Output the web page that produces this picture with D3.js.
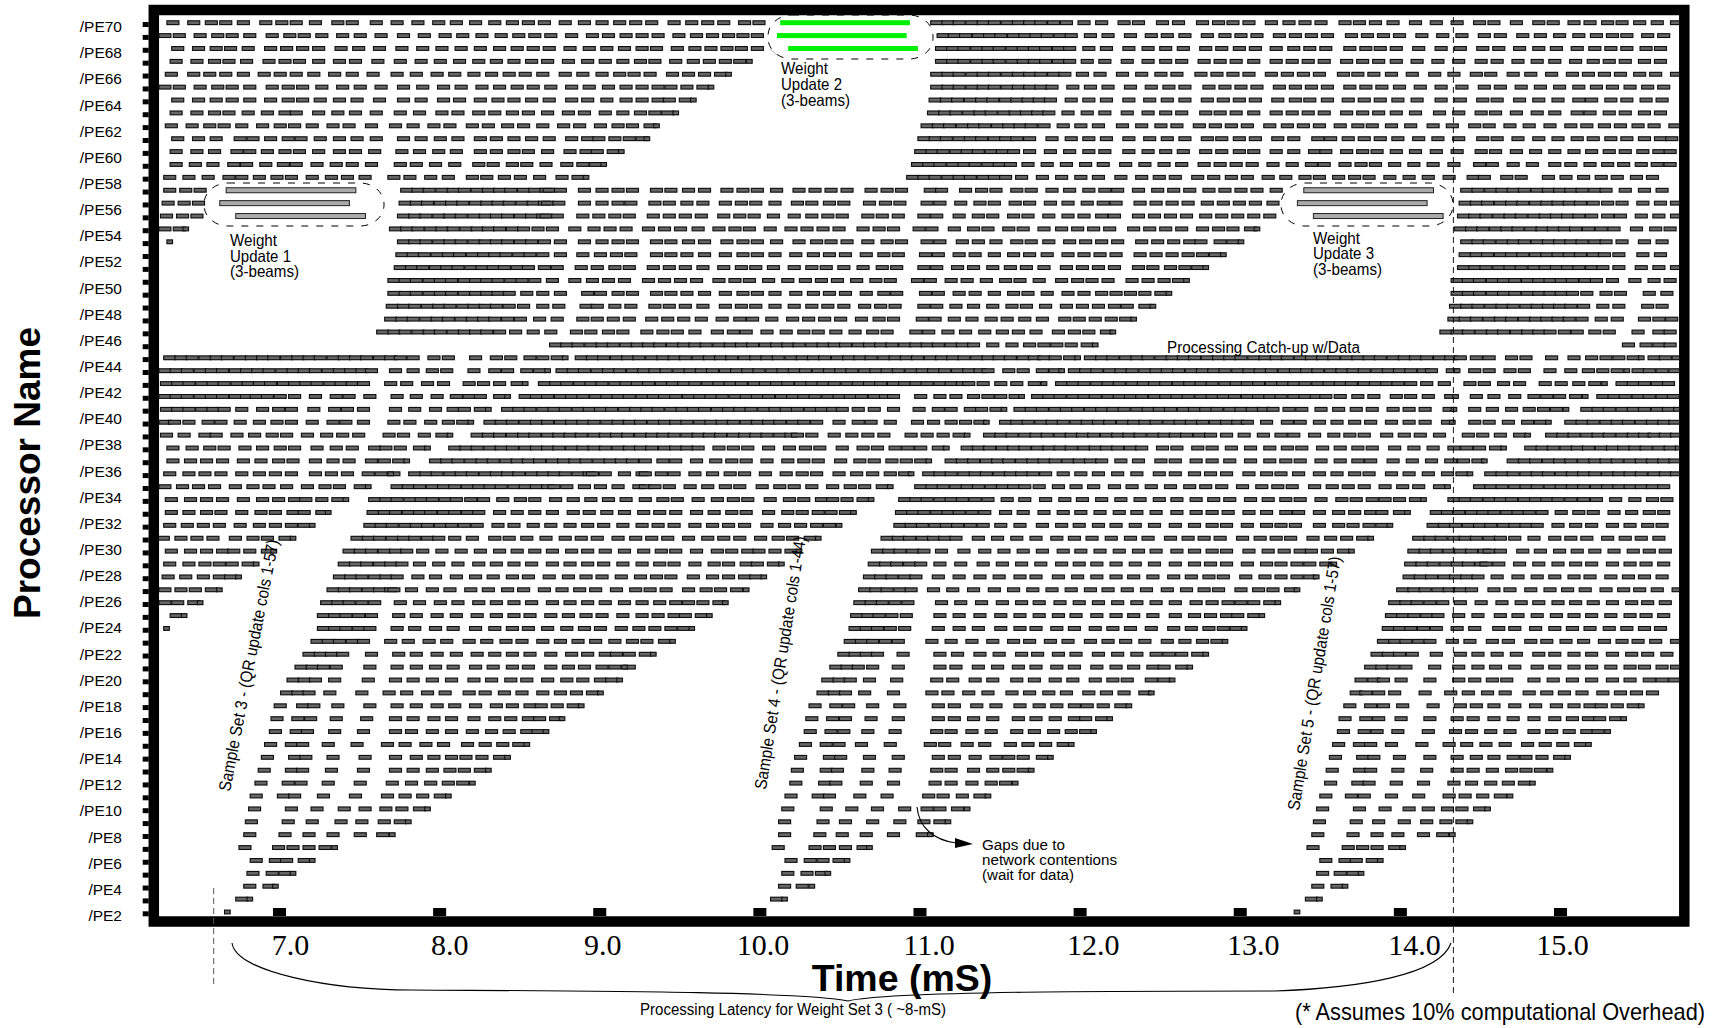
<!DOCTYPE html>
<html>
<head>
<meta charset="utf-8">
<script src="https://cdn.jsdelivr.net/npm/d3@7"></script>
<style>
body { margin: 0; background: #fff; }
text { font-family: "Liberation Sans", Arial, sans-serif; fill: #000; }
</style>
</head>
<body>
<div id="chart"></div>
<script>
// tick labels
var peLabels = ["/PE70","/PE68","/PE66","/PE64","/PE62","/PE60","/PE58","/PE56","/PE54","/PE52","/PE50","/PE48","/PE46","/PE44","/PE42","/PE40","/PE38","/PE36","/PE34","/PE32","/PE30","/PE28","/PE26","/PE24","/PE22","/PE20","/PE18","/PE16","/PE14","/PE12","/PE10","/PE8","/PE6","/PE4","/PE2"];
var timeTicks = [7, 8, 9, 10, 11, 12, 13, 14, 15];

// start of each compute burst, one list per processor row (top row first),
// hundredths of a mS
var rowStarts = [
[630,643,654,663,674,688,698,707,719,733,742,757,770,783,796,807,819,831,842,852,862,875,887,898,909,919,929,943,954,964,974,987,996,1107,1114,1121,1129,1136,1143,1151,1158,1165,1172,1180,1188,1199,1210,1224,1233,1248,1258,1273,1283,1292,1302,1316,1327,1337,1347,1362,1371,1381,1392,1406,1419,1432,1446,1455,1469,1483,1492,1505,1515,1526,1535,1546,1557,1569],
[625,634,647,658,667,678,692,703,712,723,736,747,760,774,787,800,811,823,835,846,856,866,879,892,902,913,923,933,946,957,967,977,986,995,1111,1118,1125,1133,1140,1147,1155,1162,1169,1176,1184,1191,1203,1214,1228,1241,1251,1262,1276,1287,1297,1307,1321,1331,1341,1351,1366,1376,1386,1396,1410,1423,1435,1449,1459,1473,1484,1496,1508,1519,1529,1538,1551,1561],
[633,646,657,666,677,691,701,711,721,735,746,759,773,786,798,810,822,834,845,855,865,878,890,901,912,923,932,945,956,966,976,985,995,1110,1117,1124,1132,1139,1146,1154,1161,1168,1175,1183,1190,1202,1213,1227,1239,1250,1261,1275,1285,1296,1306,1319,1330,1340,1350,1365,1375,1384,1394,1408,1422,1434,1448,1458,1471,1483,1494,1507,1518,1528,1538,1550,1559],
[632,645,656,665,676,690,700,709,721,734,744,758,772,785,797,809,821,832,843,854,864,877,889,900,911,922,931,944,955,965,975,984,1110,1117,1124,1132,1139,1146,1154,1161,1168,1175,1183,1190,1201,1212,1226,1239,1250,1260,1274,1284,1294,1305,1319,1329,1339,1349,1363,1373,1383,1394,1407,1420,1433,1447,1457,1470,1482,1493,1506,1517,1527,1537,1549,1559],
[629,643,653,663,674,687,697,707,718,731,742,755,770,782,795,806,818,829,840,850,861,875,886,898,909,918,928,942,952,962,972,1107,1114,1121,1129,1136,1143,1151,1158,1165,1172,1180,1187,1198,1209,1223,1235,1247,1257,1272,1282,1292,1302,1316,1326,1336,1346,1361,1370,1380,1391,1404,1418,1430,1444,1453,1467,1478,1491,1504,1514,1524,1534,1546,1556,1569],
[625,634,647,658,667,678,692,702,711,723,736,747,760,774,786,799,810,823,834,845,855,866,879,890,902,913,923,933,941,951,961,1107,1114,1121,1129,1136,1143,1151,1158,1165,1172,1179,1192,1203,1214,1228,1241,1252,1262,1277,1287,1297,1307,1321,1331,1341,1351,1365,1375,1385,1396,1409,1422,1435,1449,1459,1472,1484,1496,1508,1519,1529,1540,1551,1561],
[633,646,657,667,678,691,702,711,722,734,745,759,774,785,799,809,822,833,843,854,865,879,889,901,913,923,933,940,950,1106,1113,1120,1128,1135,1142,1150,1157,1164,1171,1178,1191,1202,1213,1227,1240,1251,1262,1276,1286,1296,1306,1320,1331,1340,1351,1364,1374,1384,1395,1407,1422,1434,1448,1457,1471,1483,1495,1508,1516,1528,1538,1550,1560],
[632,645,656,665,677,689,700,707,721,733,744,757,772,784,798,808,821,831,842,852,864,877,887,900,911,922,931,939,1105,1112,1119,1127,1134,1141,1149,1156,1163,1170,1177,1189,1201,1212,1226,1239,1250,1260,1275,1284,1294,1305,1319,1329,1339,1349,1363,1373,1383,1394,1406,1421,1433,1447,1456,1469,1482,1493,1507,1515,1527,1537,1549,1559],
[629,642,653,662,673,686,697,706,717,730,740,754,769,780,793,803,817,827,839,849,861,874,884,897,908,917,928,1101,1108,1115,1123,1130,1137,1145,1152,1159,1166,1174,1186,1197,1208,1223,1235,1247,1257,1271,1281,1291,1301,1315,1326,1336,1346,1359,1370,1379,1391,1403,1417,1429,1443,1452,1465,1477,1490,1503,1513,1524,1534,1545,1555,1568],
[633,646,657,672,680,691,702,710,722,734,745,757,774,785,797,808,822,832,843,854,865,879,889,896,906,915,923,1099,1106,1113,1121,1128,1135,1143,1150,1157,1165,1179,1191,1202,1213,1227,1240,1251,1262,1276,1285,1296,1306,1320,1330,1345,1353,1364,1374,1384,1395,1408,1420,1433,1448,1457,1470,1483,1495,1507,1517,1528,1538,1549,1559,1566],
[632,645,656,670,678,689,700,709,721,734,744,756,773,784,796,807,822,832,843,852,864,878,888,895,905,1097,1104,1111,1119,1126,1133,1141,1148,1155,1165,1178,1190,1202,1212,1227,1239,1250,1261,1275,1285,1296,1305,1319,1330,1343,1350,1363,1373,1382,1394,1406,1419,1432,1447,1456,1469,1481,1493,1505,1516,1527,1537,1548,1558,1565],
[632,644,655,668,676,688,699,707,720,732,742,754,772,782,794,806,821,830,842,851,863,876,886,894,1095,1102,1109,1117,1124,1131,1139,1146,1153,1164,1176,1188,1200,1211,1225,1237,1249,1260,1274,1284,1294,1304,1317,1329,1341,1349,1362,1372,1381,1393,1405,1417,1430,1446,1454,1467,1479,1493,1503,1515,1526,1536,1547,1557,1565],
[628,640,652,665,673,684,695,704,717,729,739,750,768,778,791,802,817,826,837,847,859,873,883,1092,1099,1106,1114,1121,1128,1136,1143,1150,1160,1173,1185,1197,1208,1222,1235,1246,1256,1270,1280,1291,1301,1314,1325,1337,1346,1358,1368,1377,1390,1402,1414,1427,1442,1449,1463,1472,1489,1500,1511,1522,1532,1544,1554],
[628,638,647,776,783,790,798,805,812,820,827,834,841,849,856,863,865,872,887,898,908,917,932,941,952,962,976,986,995,1007,1021,1031,1041,1051,1066,1076,1085,1103,1110,1125,1135,1144,1157,1166,1179,1190,1202,1212,1220,1233,1245,1255,1265,1277,1287,1297,1307,1319,1438,1445,1453,1460,1467,1474,1482,1489,1496,1503,1510,1518,1525,1537,1549,1560],
[627,637,646,775,782,789,797,804,811,819,826,833,840,848,855,862,864,871,887,898,908,916,931,940,951,961,975,985,994,1006,1020,1029,1040,1049,1065,1075,1084,1101,1109,1122,1134,1143,1156,1165,1178,1189,1201,1211,1219,1234,1244,1254,1264,1276,1286,1296,1306,1317,1437,1444,1451,1459,1466,1473,1481,1488,1495,1502,1509,1517,1526,1535,1548,1559,1569],
[626,636,645,774,781,788,796,803,810,818,825,832,839,847,854,861,863,870,886,896,906,915,930,940,950,960,974,984,993,1005,1018,1029,1039,1048,1064,1073,1083,1099,1107,1121,1133,1142,1155,1164,1177,1189,1199,1210,1218,1233,1243,1253,1263,1275,1285,1295,1305,1315,1436,1443,1450,1458,1465,1472,1480,1487,1494,1501,1508,1516,1526,1534,1547,1558,1569],
[625,634,769,776,783,791,798,805,813,820,827,834,842,849,858,867,881,893,903,913,927,937,947,958,971,981,990,1003,1016,1026,1036,1046,1061,1071,1080,1096,1104,1118,1130,1139,1152,1161,1174,1185,1195,1205,1215,1230,1240,1250,1260,1273,1283,1292,1303,1434,1441,1448,1456,1463,1470,1478,1485,1492,1499,1506,1514,1522,1530,1544,1556,1565],
[774,781,788,796,803,810,818,825,832,839,847,854,862,872,887,898,908,917,932,941,952,962,976,986,995,1007,1021,1032,1041,1051,1064,1076,1085,1101,1109,1123,1133,1144,1157,1166,1177,1190,1200,1210,1220,1235,1245,1255,1265,1272,1284,1292,1438,1445,1452,1460,1467,1474,1482,1489,1496,1503,1510,1518,1525,1535,1549,1560],
[773,780,787,795,802,809,817,824,831,838,846,853,861,872,886,897,907,916,932,941,951,962,975,986,995,1006,1019,1030,1040,1050,1063,1074,1083,1100,1108,1121,1131,1143,1155,1165,1176,1189,1199,1209,1219,1234,1244,1254,1264,1273,1281,1437,1444,1451,1459,1466,1473,1481,1488,1495,1502,1509,1517,1524,1533,1548,1559],
[772,779,786,794,801,808,816,823,830,837,845,852,862,870,885,895,906,915,930,940,950,961,974,985,994,1005,1018,1029,1038,1049,1061,1073,1082,1099,1107,1120,1130,1142,1153,1163,1174,1188,1198,1208,1218,1233,1242,1253,1262,1270,1436,1443,1450,1458,1465,1472,1480,1487,1494,1501,1508,1516,1523,1533,1547,1558,1569],
[768,775,782,790,797,804,812,819,826,833,841,848,856,867,881,892,902,912,927,937,947,957,971,981,990,1002,1014,1025,1035,1045,1057,1069,1078,1095,1103,1116,1126,1138,1150,1159,1171,1185,1195,1204,1214,1229,1239,1249,1258,1432,1439,1446,1454,1461,1468,1476,1483,1490,1497,1504,1512,1519,1529,1543,1555,1565],
[768,775,782,790,797,804,812,819,826,833,840,851,861,872,889,897,908,917,932,941,951,962,975,986,995,1006,1019,1030,1040,1050,1063,1074,1082,1100,1108,1121,1131,1143,1155,1164,1176,1189,1199,1210,1219,1228,1237,1247,1432,1439,1446,1454,1461,1468,1476,1483,1490,1497,1504,1513,1525,1534,1552,1563],
[767,774,781,789,796,803,811,818,825,832,840,849,861,871,888,895,906,916,931,940,950,961,975,985,994,1006,1018,1029,1039,1049,1062,1072,1081,1099,1107,1119,1130,1142,1154,1163,1175,1188,1198,1208,1218,1226,1237,1431,1438,1445,1453,1460,1467,1475,1482,1489,1496,1503,1511,1523,1533,1551,1560],
[766,773,780,788,795,802,810,817,824,831,839,847,859,870,886,895,905,915,929,939,949,960,973,984,992,1004,1017,1027,1037,1047,1060,1071,1080,1098,1106,1118,1129,1141,1151,1162,1173,1187,1196,1206,1216,1225,1430,1437,1444,1452,1459,1466,1474,1481,1488,1495,1502,1510,1522,1532,1549,1558,1566],
[761,768,775,783,790,797,805,812,819,826,834,844,855,866,882,891,902,911,926,936,945,956,970,980,988,1001,1013,1024,1033,1044,1056,1067,1076,1094,1102,1114,1125,1137,1148,1158,1169,1183,1193,1202,1213,1425,1432,1439,1447,1454,1461,1469,1476,1483,1490,1499,1507,1518,1527,1545,1558,1565],
[869,876,883,891,898,905,913,920,927,934,942,949,956,963,971,978,985,992,1000,1007,1014,1021,1029,1036,1043,1050,1058,1065,1072,1079,1087,1094,1101,1108,1116,1123,1130,1142,1154,1165,1174,1182,1191,1201,1539,1550,1558,1565],
[628,635,642,650,657,664,672,679,686,693,701,708,715,722,730,737,744,751,759,766,772,780,793,802,819,832,841,853,861,870,885,892,899,907,914,921,929,936,943,950,958,965,972,979,987,994,1001,1008,1016,1023,1030,1037,1045,1052,1059,1066,1074,1081,1088,1095,1103,1110,1117,1124,1132,1139,1146,1153,1161,1168,1174,1181,1190,1203,1210,1217,1225,1232,1239,1247,1254,1261,1268,1276,1283,1290,1297,1305,1312,1319,1326,1334,1341,1348,1355,1363,1370,1377,1384,1392,1399,1406,1413,1421,1428,1434,1444,1452,1466,1475,1491,1505,1516,1525,1533,1542,1555,1562,1570],
[625,632,639,647,654,661,669,676,683,690,698,705,712,719,727,734,741,748,754,769,780,792,801,818,831,839,851,859,873,880,887,895,902,909,917,924,931,938,946,953,960,967,975,982,989,996,1004,1011,1018,1025,1033,1040,1047,1054,1062,1069,1076,1083,1091,1098,1105,1112,1120,1127,1134,1139,1152,1161,1173,1181,1193,1200,1207,1215,1222,1229,1237,1244,1251,1258,1266,1273,1280,1287,1295,1302,1309,1316,1324,1331,1338,1345,1353,1360,1367,1374,1382,1389,1396,1403,1411,1416,1429,1443,1452,1465,1474,1490,1503,1514,1523,1532,1545,1552,1560,1568],
[626,633,640,648,655,662,670,677,684,691,699,706,713,720,728,735,742,749,766,776,789,799,815,824,834,845,862,869,876,884,891,898,906,913,920,927,935,942,949,956,964,971,978,985,993,1000,1007,1014,1022,1029,1036,1043,1051,1058,1065,1072,1080,1087,1094,1101,1109,1116,1123,1127,1136,1147,1157,1168,1185,1192,1199,1207,1214,1221,1229,1236,1243,1250,1258,1265,1272,1279,1287,1294,1301,1308,1316,1323,1330,1337,1345,1352,1359,1366,1374,1381,1388,1395,1403,1413,1424,1440,1449,1461,1471,1487,1497,1508,1518,1535,1542,1549,1557,1564],
[625,632,639,647,654,661,669,676,682,689,697,706,719,732,740,753,770,782,795,807,815,822,834,850,857,864,872,879,886,894,901,908,915,923,930,937,944,952,959,966,973,981,988,995,1002,1010,1017,1024,1031,1039,1046,1053,1060,1068,1075,1080,1097,1109,1119,1130,1139,1147,1156,1170,1177,1184,1192,1199,1206,1214,1221,1228,1235,1243,1250,1257,1264,1272,1279,1286,1293,1301,1308,1315,1322,1330,1337,1344,1350,1359,1370,1380,1394,1403,1414,1428,1444,1455,1468,1480,1488,1496,1506,1523,1530,1537,1545,1552,1560,1567],
[626,633,640,648,655,662,673,686,696,704,718,731,739,749,769,781,794,805,812,822,839,846,853,861,868,875,883,890,897,904,912,919,926,933,941,948,955,962,970,977,984,991,999,1006,1013,1020,1028,1035,1042,1048,1058,1068,1080,1096,1108,1116,1128,1135,1144,1159,1166,1173,1181,1188,1195,1203,1210,1217,1224,1232,1239,1246,1253,1261,1268,1275,1282,1290,1297,1304,1311,1317,1327,1335,1347,1358,1369,1379,1392,1402,1412,1427,1443,1454,1466,1477,1486,1494,1513,1520,1527,1535,1542,1549,1557,1564,1571],
[625,631,640,652,660,672,684,695,704,717,730,738,749,768,778,791,802,811,828,835,842,850,857,864,872,879,886,893,901,908,915,922,930,937,944,951,959,966,973,980,988,995,1002,1009,1017,1024,1032,1046,1058,1066,1078,1095,1105,1116,1125,1134,1150,1157,1164,1172,1179,1186,1194,1201,1208,1215,1223,1230,1237,1244,1252,1259,1266,1273,1281,1288,1295,1301,1313,1326,1334,1346,1357,1368,1378,1391,1402,1412,1426,1443,1452,1464,1476,1484,1503,1510,1517,1525,1532,1539,1547,1554,1561,1568],
[626,637,650,657,670,681,692,701,714,726,736,746,765,774,787,798,820,827,834,842,849,856,864,871,878,885,893,900,907,914,922,929,936,943,951,958,965,972,980,987,994,1001,1009,1016,1020,1029,1043,1054,1064,1074,1091,1101,1111,1121,1140,1147,1154,1162,1169,1176,1184,1191,1198,1205,1213,1220,1227,1234,1242,1249,1256,1263,1271,1278,1288,1299,1311,1322,1330,1343,1355,1365,1374,1388,1399,1409,1421,1439,1448,1459,1471,1491,1498,1505,1513,1520,1527,1535,1542,1549,1555,1562,1569],
[630,642,653,662,675,686,697,706,720,732,742,756,763,772,784,806,813,820,828,835,842,850,857,864,871,879,886,893,900,908,915,922,929,937,944,951,958,971,980,989,1002,1015,1025,1034,1048,1061,1070,1081,1089,1097,1108,1126,1133,1140,1148,1155,1162,1170,1177,1184,1191,1199,1206,1213,1220,1228,1235,1248,1257,1270,1279,1291,1303,1315,1326,1335,1348,1359,1370,1379,1393,1405,1417,1430,1438,1446,1456,1478,1485,1492,1500,1507,1514,1522,1529,1536,1543,1550,1558,1565,1572],
[630,641,651,661,674,685,696,705,719,730,740,754,762,771,794,801,808,816,823,830,838,845,852,859,867,874,881,888,896,903,910,917,925,936,944,957,969,979,988,1001,1014,1024,1033,1047,1059,1068,1079,1088,1097,1116,1123,1130,1138,1145,1152,1160,1167,1174,1181,1189,1196,1203,1210,1222,1233,1247,1256,1269,1279,1290,1303,1315,1325,1334,1347,1359,1370,1378,1392,1404,1416,1428,1436,1445,1467,1474,1481,1489,1496,1503,1511,1518,1525,1532,1540,1547,1554,1561,1568],
[628,640,650,660,673,684,694,704,719,729,739,752,760,768,781,788,795,803,810,817,825,832,839,846,854,861,868,875,883,890,892,900,912,923,925,935,943,956,967,978,987,1000,1013,1023,1032,1046,1057,1067,1078,1087,1102,1109,1116,1124,1131,1138,1146,1153,1160,1167,1175,1186,1197,1208,1220,1232,1246,1256,1268,1278,1288,1302,1313,1322,1333,1346,1357,1368,1377,1391,1402,1414,1426,1435,1453,1460,1467,1475,1482,1489,1497,1504,1511,1518,1526,1533,1540,1547,1555,1562,1569],
[625,636,646,656,669,680,690,701,714,725,734,747,770,777,784,792,799,806,814,821,828,835,843,850,857,864,868,876,887,897,908,921,925,931,940,953,964,975,984,998,1009,1018,1029,1042,1053,1062,1073,1097,1104,1111,1119,1126,1133,1141,1148,1155,1162,1171,1183,1194,1205,1218,1229,1241,1253,1265,1275,1285,1298,1310,1320,1329,1343,1354,1364,1374,1387,1398,1408,1421,1446,1453,1460,1468,1475,1482,1490,1497,1504,1511,1519,1526,1533,1540,1547,1554,1561],
[629,641,651,661,674,686,696,706,713,723,733,756,763,770,778,785,792,800,807,816,824,836,847,856,869,880,891,902,913,925,936,945,958,970,980,989,1003,1015,1024,1035,1042,1051,1061,1087,1094,1101,1109,1116,1123,1131,1139,1151,1162,1175,1187,1198,1210,1222,1234,1246,1257,1269,1280,1290,1303,1314,1325,1334,1347,1360,1369,1379,1387,1396,1406,1430,1437,1444,1452,1459,1466,1474,1481,1488,1495,1503,1511,1519,1531,1543,1554,1563],
[629,640,651,660,673,685,694,705,712,723,755,762,769,777,784,791,799,806,814,821,834,845,856,867,880,890,901,912,924,934,944,957,968,979,988,1002,1014,1023,1033,1041,1050,1085,1092,1099,1107,1114,1121,1129,1137,1150,1161,1174,1186,1197,1209,1221,1232,1244,1257,1269,1279,1289,1302,1313,1325,1333,1346,1358,1368,1378,1385,1396,1419,1426,1433,1441,1448,1455,1463,1470,1477,1485,1497,1508,1517,1530,1541,1552,1561],
[628,639,649,659,672,684,694,704,712,753,760,767,775,782,789,797,804,812,820,833,843,855,866,878,889,899,911,923,933,943,956,967,977,987,1001,1012,1022,1032,1040,1084,1091,1098,1106,1113,1120,1128,1136,1147,1159,1173,1185,1196,1208,1219,1231,1243,1256,1268,1279,1288,1301,1313,1322,1331,1346,1358,1367,1377,1385,1417,1424,1431,1439,1446,1453,1461,1468,1475,1482,1495,1506,1516,1529,1540,1551,1560],
[624,635,645,655,669,680,689,700,745,752,759,767,774,781,789,796,806,817,831,840,851,863,875,885,895,908,919,929,939,952,964,974,984,997,1008,1017,1028,1076,1083,1090,1098,1105,1112,1119,1133,1145,1157,1169,1182,1193,1204,1216,1228,1239,1253,1264,1274,1284,1298,1309,1319,1328,1342,1353,1363,1373,1408,1415,1422,1430,1437,1444,1452,1459,1468,1480,1493,1503,1513,1526,1537,1547,1558],
[629,641,651,661,668,678,689,740,747,754,762,769,776,786,798,810,822,834,845,856,867,879,889,900,912,924,935,944,957,970,979,989,996,1006,1016,1070,1077,1084,1092,1099,1110,1124,1137,1149,1161,1173,1186,1197,1209,1221,1233,1244,1257,1268,1279,1288,1302,1314,1324,1334,1341,1351,1361,1405,1412,1419,1427,1434,1441,1449,1452,1459,1473,1484,1496,1507,1518,1530,1542,1552,1562],
[628,640,650,659,667,677,737,744,751,759,766,773,784,796,808,821,832,843,854,867,878,889,899,911,923,934,943,956,968,977,988,995,1005,1068,1075,1082,1090,1097,1109,1122,1136,1148,1160,1172,1185,1196,1207,1219,1231,1243,1256,1268,1278,1288,1301,1313,1322,1332,1340,1350,1403,1410,1417,1425,1432,1439,1447,1450,1458,1471,1483,1495,1506,1516,1529,1540,1550,1561],
[627,638,649,659,666,734,741,748,756,763,770,783,794,807,819,830,842,852,865,877,888,898,910,922,932,941,955,967,977,987,994,1065,1072,1079,1087,1094,1108,1121,1134,1146,1159,1169,1183,1195,1207,1219,1230,1242,1255,1266,1277,1286,1300,1312,1322,1332,1340,1402,1409,1416,1424,1431,1438,1445,1457,1470,1482,1493,1505,1515,1528,1539,1549,1560],
[625,635,644,654,730,737,744,752,759,766,768,779,792,803,816,827,839,849,862,873,884,894,907,919,928,938,952,963,972,982,1062,1069,1076,1084,1091,1105,1117,1130,1143,1155,1167,1179,1191,1203,1214,1226,1238,1251,1263,1274,1283,1297,1308,1317,1328,1398,1405,1412,1420,1427,1434,1441,1455,1465,1478,1490,1501,1512,1525,1536,1546,1557,1570],
[625,633,643,726,733,740,748,756,772,784,797,808,821,832,843,854,867,878,889,900,912,923,934,944,952,961,971,1059,1066,1073,1081,1089,1110,1122,1135,1148,1160,1171,1184,1196,1208,1220,1232,1244,1256,1269,1279,1289,1297,1305,1315,1393,1400,1407,1415,1423,1434,1447,1460,1472,1483,1495,1506,1517,1529,1541,1551,1562],
[632,724,731,738,746,754,771,782,795,807,820,832,843,853,866,877,888,898,911,923,933,943,950,960,1057,1064,1071,1079,1088,1109,1121,1134,1147,1159,1171,1183,1194,1207,1219,1230,1242,1256,1268,1278,1288,1295,1305,1391,1398,1405,1413,1420,1433,1445,1459,1470,1482,1494,1505,1516,1528,1540,1550,1561],
[724,731,738,746,753,770,781,794,805,819,831,842,852,864,876,887,897,910,921,931,941,949,1056,1063,1070,1078,1087,1108,1121,1133,1147,1159,1169,1182,1193,1206,1217,1228,1241,1255,1266,1277,1286,1294,1389,1396,1403,1411,1419,1432,1443,1458,1468,1481,1493,1504,1515,1527,1538,1549,1559],
[720,727,734,742,749,766,777,790,801,815,826,838,848,861,872,883,894,906,917,926,937,1053,1060,1067,1075,1083,1104,1116,1129,1142,1155,1165,1178,1189,1203,1214,1225,1237,1251,1262,1273,1282,1386,1393,1400,1408,1415,1429,1440,1454,1464,1478,1488,1500,1511,1524,1535,1545,1556,1569],
[715,722,729,736,754,771,782,795,807,820,831,842,853,866,879,889,900,907,915,925,1049,1056,1063,1070,1086,1109,1120,1134,1146,1160,1170,1183,1194,1208,1220,1232,1244,1252,1260,1270,1382,1389,1396,1404,1419,1434,1445,1457,1469,1483,1493,1505,1516,1529,1541,1551,1563],
[710,717,724,732,753,770,782,794,805,819,830,842,852,866,877,887,898,906,915,1044,1051,1058,1067,1083,1109,1119,1133,1145,1158,1169,1182,1193,1207,1219,1230,1242,1249,1260,1378,1385,1392,1400,1418,1433,1445,1456,1468,1482,1493,1505,1516,1528,1540,1549,1560,1569],
[705,712,719,731,752,769,780,792,804,818,829,841,851,864,876,886,897,904,1039,1046,1053,1065,1082,1107,1117,1131,1142,1157,1168,1181,1192,1206,1217,1226,1241,1249,1372,1380,1386,1397,1415,1433,1443,1454,1463,1480,1492,1504,1516,1529,1540,1552,1560,1568],
[701,708,715,728,748,765,776,789,800,815,825,837,848,861,872,882,892,1036,1043,1050,1062,1080,1104,1114,1127,1139,1154,1165,1177,1188,1202,1213,1224,1237,1369,1375,1383,1393,1412,1428,1439,1451,1462,1477,1488,1499,1510,1523,1534,1544,1554],
[697,711,718,733,753,770,782,795,806,819,832,842,853,860,870,880,1031,1044,1052,1067,1084,1108,1118,1132,1144,1159,1171,1182,1193,1201,1211,1222,1365,1378,1386,1398,1417,1434,1444,1455,1468,1481,1494,1505,1515,1522,1532,1542],
[695,708,716,732,751,769,780,793,804,818,831,841,852,859,869,1029,1042,1050,1066,1083,1108,1118,1130,1142,1158,1169,1181,1193,1200,1210,1362,1375,1383,1397,1415,1432,1442,1455,1467,1480,1493,1504,1514,1521,1531],
[694,707,714,731,749,769,779,792,804,817,829,840,851,858,1028,1041,1049,1064,1081,1107,1116,1129,1141,1157,1168,1180,1191,1200,1361,1374,1382,1395,1414,1431,1441,1453,1465,1480,1491,1502,1513,1520],
[691,704,711,727,745,764,775,788,799,814,825,836,846,1025,1038,1046,1060,1078,1103,1112,1126,1137,1153,1164,1175,1186,1358,1371,1378,1391,1410,1427,1438,1450,1462,1476,1487,1498,1509],
[689,706,713,730,750,769,782,793,804,813,823,834,1022,1040,1047,1065,1083,1108,1118,1131,1144,1152,1161,1173,1356,1373,1380,1396,1415,1432,1444,1455,1467,1475,1485,1496],
[687,704,711,729,749,769,780,792,803,812,822,1020,1038,1045,1064,1081,1107,1116,1130,1142,1152,1161,1354,1371,1378,1395,1413,1432,1442,1454,1466,1475,1484],
[685,702,710,727,747,767,779,791,802,811,1019,1037,1044,1063,1080,1106,1116,1129,1141,1150,1353,1370,1377,1394,1411,1430,1441,1453,1464,1474],
[682,699,706,724,744,764,775,786,797,1016,1033,1040,1059,1076,1102,1111,1123,1134,1350,1366,1374,1391,1408,1427,1437,1448,1459],
[681,704,720,737,750,763,773,784,1014,1038,1054,1070,1087,1101,1109,1120,1348,1371,1387,1402,1414,1426,1435,1446],
[679,702,717,735,748,762,772,1012,1036,1050,1067,1084,1099,1109,1346,1369,1383,1399,1413,1425,1435],
[678,700,715,730,747,761,1012,1034,1048,1063,1080,1098,1345,1367,1382,1395,1411,1423],
[675,696,705,715,725,1008,1031,1040,1050,1061,1342,1364,1373,1382,1393],
[682,694,701,712,1016,1028,1036,1046,1350,1362,1369,1379],
[680,692,700,1014,1026,1035,1348,1359,1367],
[678,690,1012,1023,1345,1357],
[673,1007,1341],
[]
];

// the short closing bursts at the end of a run, same layout as rowStarts
var tailStarts = [
[],[],[],[992],[979],[968],[957],[946],[934],[928],[912],[901],[890],
[],[],[],[640,1309],[630,1299],[1288],[1277],[1265],[1254],[1244],[1232],[1219],
[1208],[877,1197,1549],[866,1187,1434,1540],[852,1176,1526],[841,1162,1433,1514],[829,1151,1432,1502],[818,1140,1431,1491],[805,1128,1478],[791,1115,1463],[778,1104,1451],[768,1093,1442],[754,1080,1428],[740,1068,1413],[729,1057,1403],[719,1048,1392],[707,1035,1380],[695,1023,1368],[684,1012,1357],[673,1001,1346],[661,990,1334],[649,977,1322],[639,967,1312],[628,956,1301],[944,1289],[932,1277],[914,1267],
[911,1256],[899,1243],[887,1229,1549],[875,1217,1538],[865,1207,1528],[853,1193,1516],[841,1180,1503],[829,1168,1492],[819,1158,1481],[804,1141,1467],[791,1128,1453],[779,1116,1442],[769,1105,1431],[733,1067,1400],[719,1053,1386],[707,1041,1374],[696,1031,1364],[680,1014,1348],[666,1000,1334]
];

// the three beam weight updates, row and start/end in hundredths of a mS
var update1Rows = [13, 14, 15], update1Start = [667, 663, 673], update1End = [748, 744, 754];
var update2Rows = [0, 1, 2], update2Start = [1013, 1011, 1018], update2End = [1094, 1092, 1099];
var update3Rows = [13, 14, 15], update3Start = [1340, 1336, 1346], update3End = [1421, 1417, 1427];

var labelNudges = [11, 10, 3, 3, 9, 13, 13, 14, 2];

var chart = {
	create : function() {
		var _width = 1713, _height = 1028;

		var svg = d3.select("#chart").append("svg")
			.attr("width", _width)
			.attr("height", _height)
			.style("display", "block");

		var x = d3.scaleLinear().domain([7, 15]).range([279, 1560]);
		var rowY = d3.scaleLinear().domain([0, 69]).range([22.7, 912]);
		var labelY = d3.scalePoint().domain(peLabels).range([26.7, 915.6]);
		var barH = 3.8, barW = x(7.075) - x(7), tailW = x(7.035) - x(7);

		svg.append("clipPath").attr("id", "plot").append("rect")
			.attr("x", 159).attr("y", 15).attr("width", 1520).attr("height", 901);

		var plot = svg.append("g").attr("clip-path", "url(#plot)");

		// flatten the rows for the data join
		var bursts = [], tails = [];
		rowStarts.forEach(function(list, r) {
			list.forEach(function(t) { bursts.push({ r: r, t: t / 100 }); });
		});
		tailStarts.forEach(function(list, r) {
			list.forEach(function(t) { tails.push({ r: r, t: t / 100 }); });
		});

		plot.selectAll("rect.burst")
			.data(bursts)
			.enter()
			.append("rect")
			.attr("class", "burst")
			.attr("x", function(d) { return x(d.t); })
			.attr("y", function(d) { return rowY(d.r) - barH / 2; })
			.attr("width", barW)
			.attr("height", barH)
			.attr("fill", "#666")
			.attr("stroke", "#111")
			.attr("stroke-width", 1.15);

		plot.selectAll("rect.tail")
			.data(tails)
			.enter()
			.append("rect")
			.attr("class", "tail")
			.attr("x", function(d) { return x(d.t); })
			.attr("y", function(d) { return rowY(d.r) - barH / 2; })
			.attr("width", tailW)
			.attr("height", barH)
			.attr("fill", "#666")
			.attr("stroke", "#111")
			.attr("stroke-width", 1.15);

		// weight updates
		function weightBars(rows, starts, ends, fill, stroke) {
			plot.selectAll(null)
				.data(rows)
				.enter()
				.append("rect")
				.attr("x", function(d, i) { return x(starts[i] / 100); })
				.attr("y", function(d) { return rowY(d) - 2.5; })
				.attr("width", function(d, i) { return x(ends[i] / 100) - x(starts[i] / 100); })
				.attr("height", 5)
				.attr("fill", fill)
				.attr("stroke", stroke)
				.attr("stroke-width", stroke == "none" ? 0 : 1);
		}
		weightBars(update1Rows, update1Start, update1End, "#aaaaaa", "#222");
		weightBars(update2Rows, update2Start, update2End, "#00f000", "none");
		weightBars(update3Rows, update3Start, update3End, "#aaaaaa", "#222");

		// frame
		svg.append("rect")
			.attr("x", 153.8).attr("y", 10).attr("width", 1530.5).attr("height", 911.5)
			.attr("fill", "none").attr("stroke", "#000").attr("stroke-width", 10.5);

		// left axis: one tick per row, a name every other row
		var rowTicks = svg.append("g")
			.attr("transform", "translate(148.7,1.3)")
			.call(d3.axisLeft(rowY).tickValues(d3.range(70)).tickFormat("").tickSize(6));
		rowTicks.select(".domain").remove();
		rowTicks.selectAll("line").attr("stroke", "#000").attr("stroke-width", 5);

		var names = svg.append("g")
			.attr("transform", "translate(125,0)")
			.call(d3.axisLeft(labelY).tickSize(0).tickPadding(3));
		names.select(".domain").remove();
		names.selectAll("text")
			.style("font-family", '"Liberation Sans"')
			.style("font-size", "15.5px")
			.attr("fill", "#000");

		// bottom axis: square marks, then the serif labels
		var marks = svg.append("g")
			.attr("transform", "translate(0,916)")
			.call(d3.axisBottom(x).tickValues(timeTicks).tickFormat("").tickSizeInner(-8).tickSizeOuter(0));
		marks.select(".domain").remove();
		marks.selectAll("line").attr("stroke", "#000").attr("stroke-width", 13);

		var timeLabels = svg.append("g")
			.attr("transform", "translate(0,927)")
			.call(d3.axisBottom(x).tickValues(timeTicks).tickFormat(d3.format(".1f")).tickSize(0).tickPadding(7));
		timeLabels.select(".domain").remove();
		timeLabels.selectAll("text")
			.style("font-family", '"Liberation Serif"')
			.style("font-size", "30px")
			.attr("fill", "#000")
			.attr("dx", function(d, i) { return labelNudges[i]; });

		// axis names
		svg.append("text")
			.attr("transform", "translate(40,473) rotate(-90)")
			.attr("text-anchor", "middle")
			.attr("font-weight", "bold")
			.attr("font-size", 37)
			.text("Processor Name");
		svg.append("text")
			.attr("x", 902).attr("y", 991)
			.attr("text-anchor", "middle")
			.attr("font-weight", "bold")
			.attr("font-size", 37.5)
			.text("Time (mS)");

		// notes
		function note(px, py, str, size, len, angle) {
			var t = svg.append("text").attr("font-size", size).text(str);
			if (angle) t.attr("transform", "translate(" + px + "," + py + ") rotate(" + angle + ")");
			else t.attr("x", px).attr("y", py);
			if (len) t.attr("textLength", len).attr("lengthAdjust", "spacingAndGlyphs");
		}
		note(230, 246, "Weight", 16.5, 47);
		note(230, 262, "Update 1", 16.5, 61);
		note(230, 277, "(3-beams)", 16.5, 69);
		note(781, 74, "Weight", 16.5, 47);
		note(781, 90, "Update 2", 16.5, 61);
		note(781, 106, "(3-beams)", 16.5, 69);
		note(1313, 244, "Weight", 16.5, 47);
		note(1313, 259, "Update 3", 16.5, 61);
		note(1313, 275, "(3-beams)", 16.5, 69);
		note(1167, 353, "Processing Catch-up w/Data", 16, 193);
		note(982, 850, "Gaps due to", 15.5, 83);
		note(982, 865, "network contentions", 15.5, 135);
		note(982, 880, "(wait for data)", 15.5, 92);
		note(640, 1015, "Processing Latency for Weight Set 3 ( ~8-mS)", 16, 306);
		note(1295, 1020, "(* Assumes 10% computational Overhead)", 24, 410);
		note(230, 792, "Sample Set 3 - (QR update cols 1-57)", 17, 256, -79);
		note(766, 790, "Sample Set 4 - (QR update cols 1-44)", 17, 256, -81);
		note(1299, 811, "Sample Set 5 - (QR update cols 1-57)", 17, 257, -80.6);

		// dashed outlines round the weight updates
		[[204, 183, 180, 43], [768, 15, 165, 44], [1281, 183, 172, 43]].forEach(function(b) {
			svg.append("rect")
				.attr("x", b[0]).attr("y", b[1]).attr("width", b[2]).attr("height", b[3])
				.attr("rx", 24).attr("ry", 21)
				.attr("fill", "none").attr("stroke", "#000").attr("stroke-width", 1)
				.attr("stroke-dasharray", "7 8");
		});
		svg.append("line")
			.attr("x1", 770).attr("y1", 49).attr("x2", 777).attr("y2", 55)
			.attr("stroke", "#888").attr("stroke-width", 0.7);

		// latency limits
		svg.append("line")
			.attr("x1", 213.7).attr("y1", 888).attr("x2", 213.7).attr("y2", 987)
			.attr("stroke", "#555").attr("stroke-width", 1).attr("stroke-dasharray", "6 4");
		svg.append("line")
			.attr("x1", 1453.4).attr("y1", 7).attr("x2", 1453.4).attr("y2", 995)
			.attr("stroke", "#000").attr("stroke-width", 0.9).attr("stroke-dasharray", "6 4");

		// brace under the axis
		svg.append("path")
			.attr("d", "M232,943 C236,972 330,990 412,990 C560,991 800,991 848,1001 C890,991 1130,991 1275,991 C1360,988 1440,975 1451,943")
			.attr("fill", "none").attr("stroke", "#000").attr("stroke-width", 1.1);

		// gaps arrow
		svg.append("path")
			.attr("d", "M917,807 C919,828 934,840 956,843")
			.attr("fill", "none").attr("stroke", "#000").attr("stroke-width", 1.1);
		svg.append("path")
			.attr("d", "M955,838 L973,844 L955,848 Z")
			.attr("fill", "#000");
	}
};

chart.create();
</script>
</body>
</html>
